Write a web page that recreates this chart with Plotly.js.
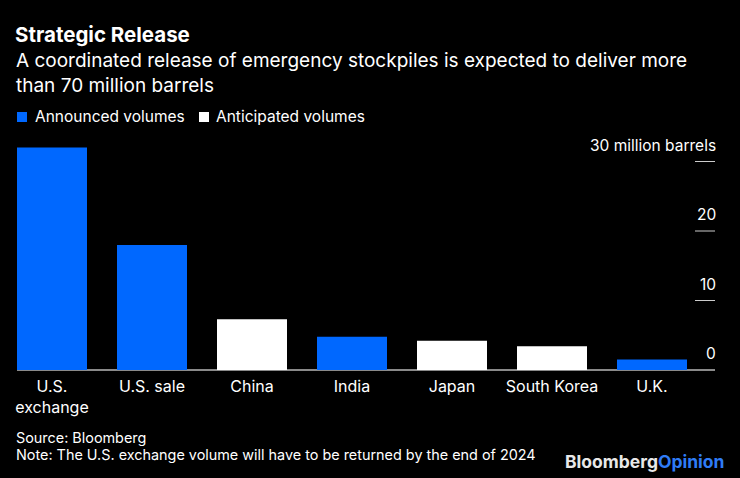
<!DOCTYPE html>
<html>
<head>
<meta charset="utf-8">
<script src="https://cdn.plot.ly/plotly-3.0.1.min.js"></script>
<style>html,body{margin:0;padding:0;background:#000;}#chart{width:740px;height:478px;}</style>
</head>
<body>
<div id="chart"></div>
<script>
// ---- data ----
const categories = ["U.S.<br>exchange", "U.S. sale", "China", "India", "Japan", "South Korea", "U.K."];
const volumes = [32, 18, 7.3, 4.8, 4.2, 3.4, 1.5];
const status = ["Announced", "Announced", "Anticipated", "Announced", "Anticipated", "Anticipated", "Announced"];
const seriesNames = ["Announced volumes", "Anticipated volumes"];
const tickValues = [0, 10, 20, 30];
const tickLabels = ["0", "10", "20", "30 million barrels"];

// ---- layout helpers ----
const W = 740, H = 478;
const M = {l: 17, r: 25, t: 140, b: 108};
const PW = W - M.l - M.r, PH = H - M.t - M.b;
const px = x => (x - M.l) / PW;
const py = y => (H - M.b - y) / PH;
const FONT = "Inter, Liberation Sans, Arial, sans-serif";
const BLUE = "#0068ff";

function pick(kind) {
  return {
    x: categories.filter((c, i) => status[i] === kind),
    y: volumes.filter((v, i) => status[i] === kind)
  };
}
const ann = pick("Announced"), ant = pick("Anticipated");

const traces = [
  {type: "bar", name: seriesNames[0], x: ann.x, y: ann.y, marker: {color: BLUE}, hoverinfo: "x+y"},
  {type: "bar", name: seriesNames[1], x: ant.x, y: ant.y, marker: {color: "#ffffff"}, hoverinfo: "x+y"}
];

const annotations = [
  {text: "A coordinated release of emergency stockpiles is expected to deliver more<br>than 70 million barrels",
   xref: "paper", yref: "paper", x: px(14), y: py(46.5), xanchor: "left", yanchor: "top", align: "left",
   showarrow: false, font: {family: FONT, size: 19, color: "#ffffff"}},
  {text: seriesNames[0], xref: "paper", yref: "paper", x: px(33), y: py(117), xanchor: "left", yanchor: "middle",
   showarrow: false, font: {family: FONT, size: 15.5, color: "#ffffff"}},
  {text: seriesNames[1], xref: "paper", yref: "paper", x: px(214), y: py(117), xanchor: "left", yanchor: "middle",
   showarrow: false, font: {family: FONT, size: 15.5, color: "#ffffff"}},
  {text: "Source: Bloomberg", xref: "paper", yref: "paper", x: px(14), y: py(438), xanchor: "left", yanchor: "middle",
   showarrow: false, font: {family: FONT, size: 14.4, color: "#ffffff"}},
  {text: "Note: The U.S. exchange volume will have to be returned by the end of 2024",
   xref: "paper", yref: "paper", x: px(14), y: py(455), xanchor: "left", yanchor: "middle",
   showarrow: false, font: {family: FONT, size: 14.4, color: "#ffffff"}},
  {text: "<b>Bloomberg</b><b><span style='color:#2f7cf6'>Opinion</span></b>",
   xref: "paper", yref: "paper", x: px(727), y: py(461), xanchor: "right", yanchor: "middle",
   showarrow: false, font: {family: FONT, size: 17.5, color: "#e8e8e8", weight: 800}}
];
tickValues.forEach((v, i) => {
  annotations.push({text: tickLabels[i], xref: "paper", yref: "y", x: 1, y: v, xanchor: "right", yanchor: "bottom",
    xshift: 3, yshift: 5, showarrow: false, font: {family: FONT, size: 15.5, color: "#ffffff"}});
});

const shapes = [
  {type: "rect", xref: "paper", yref: "paper", x0: px(17), x1: px(27), y0: py(112), y1: py(122), fillcolor: BLUE, line: {width: 0}},
  {type: "rect", xref: "paper", yref: "paper", x0: px(199), x1: px(209), y0: py(112), y1: py(122), fillcolor: "#ffffff", line: {width: 0}}
];
tickValues.filter(v => v > 0).forEach(v => {
  shapes.push({type: "line", xref: "paper", yref: "y", x0: px(695), x1: 1, y0: v, y1: v, line: {color: "#cccccc", width: 1}});
});

const layout = {
  width: W, height: H,
  paper_bgcolor: "#000", plot_bgcolor: "#000",
  margin: M,
  showlegend: false,
  barmode: "overlay",
  bargap: 0.3,
  title: {text: "<b>Strategic Release</b>", xref: "container", yref: "container", x: 15 / W, y: 1 - 35 / H,
          xanchor: "left", yanchor: "middle", font: {family: FONT, size: 20.5, color: "#ffffff"}},
  xaxis: {type: "category", categoryorder: "array", categoryarray: categories, range: [-0.35, 6.63],
          showgrid: false, showline: false, ticks: "", zeroline: false, ticklabelstandoff: 5,
          tickfont: {family: FONT, size: 16, color: "#ffffff"}, fixedrange: true},
  yaxis: {range: [0, PH / 69.5 * 10], showgrid: false, showticklabels: false, ticks: "",
          zeroline: true, zerolinecolor: "#8a8a8a", zerolinewidth: 1.5, fixedrange: true},
  annotations: annotations,
  shapes: shapes,
  font: {family: FONT, color: "#ffffff"}
};

Plotly.newPlot("chart", traces, layout, {displayModeBar: false, staticPlot: true});
</script>
</body>
</html>
